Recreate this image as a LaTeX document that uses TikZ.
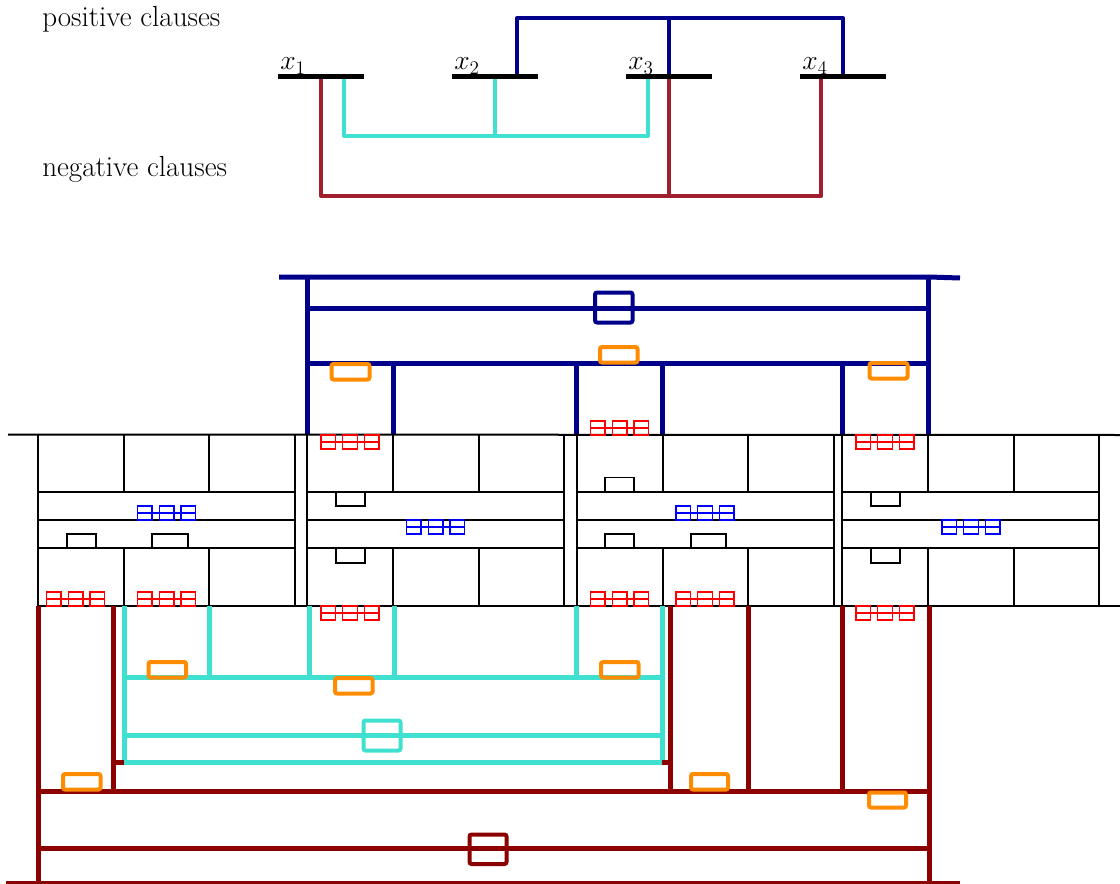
\documentclass[tikz,border=0pt]{standalone}
\usepackage{fontspec}
\definecolor{navy}{RGB}{0,0,139}
\definecolor{turq}{RGB}{64,224,208}
\definecolor{topred}{RGB}{160,30,45}
\definecolor{dred}{RGB}{139,0,0}
\definecolor{orng}{RGB}{255,140,0}
\newcommand\trip[3]{% color, x-left, y-top
  \draw[tripst,#1] (#2,#3) rectangle ++(14.5,14)
    (#2+21.75,#3) rectangle ++(14.5,14)
    (#2+43.5,#3) rectangle ++(14.5,14)
    (#2,#3+7) -- ++(58,0);}
\newcommand\gblock[1]{% left x of a block
  \draw[gridln] (#1,435) -- (#1,606) (#1+257,435) -- (#1+257,606)
    (#1+86,435) -- (#1+86,492) (#1+171.3,435) -- (#1+171.3,492)
    (#1+86,548) -- (#1+86,606) (#1+171.3,548) -- (#1+171.3,606)
    (#1,492) -- (#1+257,492) (#1,520) -- (#1+257,520) (#1,548) -- (#1+257,548);}
\begin{document}
\begin{tikzpicture}[x=0.75pt,y=-0.75pt,
  lbl/.style={font=\fontsize{21.8}{26}\selectfont, inner sep=0pt, anchor=base west},
  varbar/.style={line width=3.75pt, black},
  conn/.style={line width=3pt, line join=round},
  gad/.style={line width=3.75pt, line join=round},
  gridln/.style={line width=1.5pt, black},
  obox/.style={draw=orng, line width=3pt, rounded corners=1.5pt},
  cbox/.style={line width=3pt, rounded corners=1.5pt},
  tripst/.style={line width=1.1pt},
  notch/.style={line width=1.3pt, black}]
\useasboundingbox (0,0) rectangle (1120,884);

% ---------- top: variables and clauses ----------
\node[lbl] (pos) at (42,27) {positive clauses};
\node[lbl] (neg) at (42,177) {negative clauses};

\draw[conn,navy] (517,77) -- (517,18) -- (843,18) -- (843,77);
\draw[conn,navy] (669,18) -- (669,77);
\draw[conn,turq] (344,77) -- (344,136) -- (648,136) -- (648,77);
\draw[conn,turq] (495,77) -- (495,136);
\draw[conn,topred] (321,77) -- (321,196) -- (821,196) -- (821,77);
\draw[conn,topred] (669,77) -- (669,196);

\draw[varbar] (278,77) -- (364,77);
\draw[varbar] (452,77) -- (538,77);
\draw[varbar] (626,77) -- (712,77);
\draw[varbar] (800,77) -- (886,77);
\node[lbl] (lx1) at (280,70) {$x_1$};
\node[lbl] (lx2) at (454,70) {$x_2$};
\node[lbl] (lx3) at (628,70) {$x_3$};
\node[lbl] (lx4) at (802,70) {$x_4$};

% ---------- blue gadget ----------
\draw[gad,navy] (279,277) -- (929,277) -- (960,278);
\draw[gad,navy] (307.3,277) -- (307.3,435) (928.7,277) -- (928.7,435);
\draw[gad,navy] (307.3,308) -- (928.7,308) (307.3,363) -- (928.7,363);
\draw[gad,navy] (393.3,363) -- (393.3,435) (576.7,363) -- (576.7,435)
  (662.3,363) -- (662.3,435) (842.3,363) -- (842.3,435);
\draw[cbox,navy] (595,292.5) rectangle (632.5,322.5);
\draw[obox] (331.5,364) rectangle (369.5,379.5);
\draw[obox] (600,347) rectangle (637.5,362.5);
\draw[obox] (869.5,363) rectangle (907.5,378.5);

% ---------- grid ----------
\draw[gridln] (8,434.5) -- (1120,435);
\draw[gridln] (38,606) -- (1120,606);
\gblock{38}
\gblock{307.3}
\gblock{576.7}
\gblock{842.3}

% block 1
\trip{blue}{137.7}{506}
\draw[notch] (66.7,548) -- (66.7,534.3) -- (95.7,534.3) -- (95.7,548);
\draw[notch] (152.3,548) -- (152.3,534.3) -- (188.3,534.3) -- (188.3,548);
\trip{red}{46.7}{592}
\trip{red}{137.7}{592}
% block 2
\trip{red}{321}{435}
\draw[notch] (336,492) -- (336,506) -- (364.7,506) -- (364.7,492);
\trip{blue}{406.7}{520}
\draw[notch] (336,548) -- (336,563) -- (364.7,563) -- (364.7,548);
\trip{red}{321}{606}
% block 3
\trip{red}{590.7}{421}
\draw[notch] (605,492) -- (605,477.5) -- (634,477.5) -- (634,492);
\trip{blue}{676}{506}
\draw[notch] (605,548) -- (605,534.3) -- (634,534.3) -- (634,548);
\draw[notch] (691,548) -- (691,534.3) -- (726.3,534.3) -- (726.3,548);
\trip{red}{590.7}{592}
\trip{red}{676}{592}
% block 4
\trip{red}{856}{435}
\draw[notch] (870.7,492) -- (870.7,506) -- (899.7,506) -- (899.7,492);
\trip{blue}{942}{520}
\draw[notch] (870.7,548) -- (870.7,563) -- (899.7,563) -- (899.7,548);
\trip{red}{856}{606}

% ---------- cyan gadget ----------
\draw[gad,turq] (124,606) -- (124,762) (662.3,606) -- (662.3,762);
\draw[gad,turq] (209.3,606) -- (209.3,677) (309,606) -- (309,677)
  (394.5,606) -- (394.5,677) (576.8,606) -- (576.8,677);
\draw[gad,turq] (124,677) -- (662.3,677) (124,735) -- (662.3,735) (124,762) -- (662.3,762);
\draw[cbox,turq] (363.5,720.5) rectangle (400.5,750.5);
\draw[obox] (148.5,662) rectangle (186,677.5);
\draw[obox] (335,678) rectangle (372.5,693.5);
\draw[obox] (601,662) rectangle (638.5,677.5);

% ---------- dark red gadget ----------
\draw[gad,dred] (38,606) -- (38,884) (113.3,606) -- (113.3,791);
\draw[gad,dred] (113.3,762) -- (124,762) (662.3,762) -- (670,762);
\draw[gad,dred] (670,606) -- (670,791) (748,606) -- (748,791)
  (842.5,606) -- (842.5,791) (929.5,606) -- (929.5,884);
\draw[gad,dred] (38,791) -- (929.5,791) (38,848) -- (929.5,848);
\draw[gad,dred] (6,883) -- (960,883);
\draw[cbox,dred] (469.5,834.5) rectangle (506.5,864);
\draw[obox] (63,774) rectangle (100.5,789.5);
\draw[obox] (691,774) rectangle (728,789.5);
\draw[obox] (869,792.5) rectangle (906,807.5);
\end{tikzpicture}
\end{document}
